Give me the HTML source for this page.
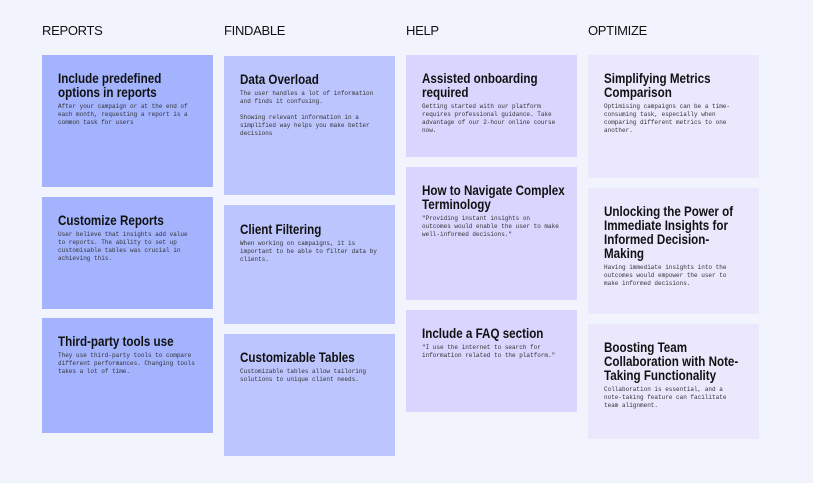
<!DOCTYPE html>
<html><head><meta charset="utf-8"><style>
*{margin:0;padding:0;box-sizing:border-box}
body{width:813px;height:483px;background:#f1f4fd;position:relative;overflow:hidden;font-family:"Liberation Sans",sans-serif;color:#111}
.h{position:absolute;top:23px;font-size:13px;letter-spacing:-0.3px;color:#111}
.c{position:absolute;width:171px;padding:16px 15px 0 16px}
.t{font-weight:bold;font-size:14px;line-height:14px;width:174px;transform:scaleX(.83);transform-origin:left top;margin-bottom:4px;color:#111}
.b{font-family:"Liberation Mono",monospace;font-size:6px;line-height:8px;color:#333}
.a{background:#a3b3fe}.f{background:#bcc5fe}.p{background:#d9d5fe}.o{background:#ebe8fe}
</style></head><body>
<div class="h" style="left:42px">REPORTS</div>
<div class="h" style="left:224px">FINDABLE</div>
<div class="h" style="left:406px">HELP</div>
<div class="h" style="left:588px">OPTIMIZE</div>

<div class="c a" style="left:42px;top:55px;height:132px"><div class="t">Include predefined options in reports</div><div class="b">After your campaign or at the end of each month, requesting a report is a common task for users</div></div>
<div class="c a" style="left:42px;top:197px;height:112px"><div class="t">Customize Reports</div><div class="b">User believe that insights add value to reports. The ability to set up customisable tables was crucial in achieving this.</div></div>
<div class="c a" style="left:42px;top:318px;height:115px"><div class="t">Third-party tools use</div><div class="b">They use third-party tools to compare different performances. Changing tools takes a lot of time.</div></div>

<div class="c f" style="left:224px;top:56px;height:139px"><div class="t">Data Overload</div><div class="b">The user handles a lot of information and finds it confusing.<br><br>Showing relevant information in a simplified way helps you make better decisions</div></div>
<div class="c f" style="left:224px;top:205px;height:119px;padding-top:17px"><div class="t">Client Filtering</div><div class="b">When working on campaigns, it is important to be able to filter data by clients.</div></div>
<div class="c f" style="left:224px;top:334px;height:122px"><div class="t">Customizable Tables</div><div class="b">Customizable tables allow tailoring solutions to unique client needs.</div></div>

<div class="c p" style="left:406px;top:55px;height:102px"><div class="t">Assisted onboarding required</div><div class="b">Getting started with our platform requires professional guidance. Take advantage of our 2-hour online course now.</div></div>
<div class="c p" style="left:406px;top:167px;height:133px"><div class="t">How to Navigate Complex Terminology</div><div class="b">"Providing instant insights on outcomes would enable the user to make well-informed decisions."</div></div>
<div class="c p" style="left:406px;top:310px;height:102px"><div class="t">Include a FAQ section</div><div class="b">"I use the internet to search for information related to the platform."</div></div>

<div class="c o" style="left:588px;top:55px;height:123px"><div class="t">Simplifying Metrics Comparison</div><div class="b">Optimising campaigns can be a time-consuming task, especially when comparing different metrics to one another.</div></div>
<div class="c o" style="left:588px;top:188px;height:126px"><div class="t">Unlocking the Power of Immediate Insights for Informed Decision-Making</div><div class="b">Having immediate insights into the outcomes would empower the user to make informed decisions.</div></div>
<div class="c o" style="left:588px;top:324px;height:115px"><div class="t">Boosting Team Collaboration with Note-Taking Functionality</div><div class="b">Collaboration is essential, and a note-taking feature can facilitate team alignment.</div></div>
</body></html>
